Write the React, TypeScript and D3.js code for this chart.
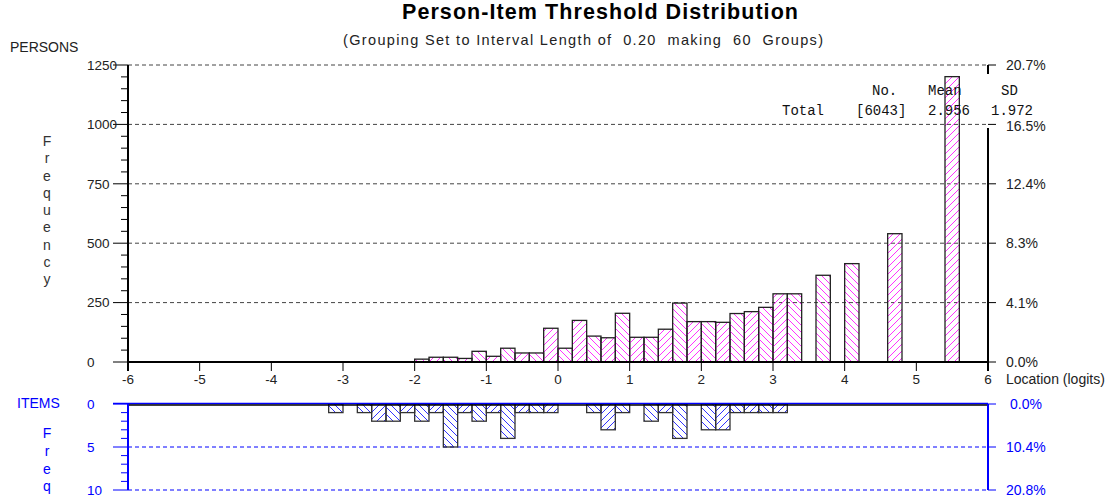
import React from "react";
import * as d3 from "d3";

// lower edge (logits) of each non-empty 0.2 interval, and its count
const personBins = [-2.0, -1.8, -1.6, -1.4, -1.2, -1.0, -0.8, -0.6, -0.4, -0.2, 0, 0.2, 0.4, 0.6, 0.8, 1.0, 1.2, 1.4, 1.6, 1.8, 2.0, 2.2, 2.4, 2.6, 2.8, 3.0, 3.2, 3.6, 4.0, 4.6, 5.4];
const personCounts = [12, 20, 20, 15, 45, 24, 58, 38, 38, 142, 58, 175, 109, 102, 205, 104, 104, 138, 248, 170, 170, 167, 204, 212, 230, 287, 287, 365, 414, 540, 1201];

const itemBins = [-3.2, -2.8, -2.6, -2.4, -2.2, -2.0, -1.8, -1.6, -1.4, -1.2, -1.0, -0.8, -0.6, -0.4, -0.2, 0.4, 0.6, 0.8, 1.2, 1.4, 1.6, 2.0, 2.2, 2.4, 2.6, 2.8, 3.0];
const itemCounts = [1, 1, 2, 2, 1, 2, 1, 5, 1, 2, 1, 4, 1, 1, 1, 1, 3, 1, 2, 1, 4, 3, 3, 1, 1, 1, 1];

const personTicks = [0, 250, 500, 750, 1000, 1250];
const itemTicks = [0, 5, 10];
const xTicks = [-6, -5, -4, -3, -2, -1, 0, 1, 2, 3, 4, 5, 6];
const totalPersons = 6043;
const totalItems = 48;

const statsHeader = ["No.", "Mean", "SD"];
const statsRow = ["Total", "[6043]", "2.956", "1.972"];
const statsHeaderX = [872, 928, 1001];
const statsRowX = [782, 856, 928, 991];

const BIN = 0.2;
const SANS = "'Liberation Sans', Arial, sans-serif";
const MONO = "'Liberation Mono', 'Courier New', monospace";
const BLUE = "#0000ff";

export default function App() {
  const x = d3.scaleLinear().domain([-6, 6]).range([128, 988]);
  const yP = d3.scaleLinear().domain([0, 1250]).range([362, 65]);
  const yI = d3.scaleLinear().domain([0, 10]).range([404, 490]);
  const binIndex = (b: number) => Math.round((b + 6) / BIN);

  const left = x(-6);
  const right = x(6);
  const minorP = d3.range(0, 1251, 50).filter((v) => v % 250 !== 0);
  const minorI = d3.range(0, 11, 1).filter((v) => v % 5 !== 0);

  const persons = personBins.map((b, i) => ({ b, v: personCounts[i] }));
  const items = itemBins.map((b, i) => ({ b, v: itemCounts[i] }));

  const freqUpper = "Frequency".split("");
  const freqLower = "Freq".split("");

  return (
    <svg
      width={1120}
      height={497}
      style={{ position: "absolute", left: 0, top: 0, background: "#fff" }}
      fontFamily={SANS}
    >
      <defs>
        <pattern id="pinkF" patternUnits="userSpaceOnUse" width="7" height="7">
          <path d="M-1,1 L1,-1 M0,7 L7,0 M6,8 L8,6" stroke="#ff33ff" strokeWidth="1" />
        </pattern>
        <pattern id="pinkB" patternUnits="userSpaceOnUse" width="7" height="7">
          <path d="M-1,6 L1,8 M0,0 L7,7 M6,-1 L8,1" stroke="#ff33ff" strokeWidth="1" />
        </pattern>
        <pattern id="blueF" patternUnits="userSpaceOnUse" width="7" height="7">
          <path d="M-1,1 L1,-1 M0,7 L7,0 M6,8 L8,6" stroke="#3333ff" strokeWidth="1" />
        </pattern>
        <pattern id="blueB" patternUnits="userSpaceOnUse" width="7" height="7">
          <path d="M-1,6 L1,8 M0,0 L7,7 M6,-1 L8,1" stroke="#3333ff" strokeWidth="1" />
        </pattern>
      </defs>

      {/* titles */}
      <text x={600} y={19} textAnchor="middle" fontSize={21.5} fontWeight="bold" textLength={396} lengthAdjust="spacing">
        Person-Item Threshold Distribution
      </text>
      <text x={583} y={45} textAnchor="middle" fontSize={14.5} textLength={480} lengthAdjust="spacing" style={{ whiteSpace: "pre" }} fill="#222">
        {"(Grouping Set to Interval Length of  0.20  making  60  Groups)"}
      </text>

      {/* ---------- persons ---------- */}
      <text x={10} y={52} fontSize={14} fill="#222">PERSONS</text>
      {freqUpper.map((c, i) => (
        <text key={i} x={47} y={141 + i * 17.3} dy="0.35em" textAnchor="middle" fontSize={14} fill="#333">{c}</text>
      ))}

      {personTicks.slice(1).map((t) => (
        <line key={t} x1={left} x2={right} y1={yP(t)} y2={yP(t)} stroke="#444" strokeDasharray="4,3" />
      ))}

      {persons.map((d) => (
        <rect
          key={d.b}
          x={x(d.b)}
          width={x(d.b + BIN) - x(d.b)}
          y={yP(d.v)}
          height={yP(0) - yP(d.v)}
          fill={binIndex(d.b) % 2 ? "url(#pinkF)" : "url(#pinkB)"}
          stroke="#222"
          strokeWidth={1.3}
        />
      ))}

      {/* left axis */}
      <line x1={left} x2={left} y1={yP(1250)} y2={yP(0) + 9} stroke="#000" strokeWidth={2} />
      {personTicks.map((t) => (
        <g key={t}>
          <line x1={left - 15} x2={left} y1={yP(t)} y2={yP(t)} stroke="#000" />
          <text x={87} y={yP(t)} dy="0.36em" fontSize={13.5} fill="#222">{t}</text>
        </g>
      ))}
      {minorP.map((t) => (
        <line key={t} x1={left - 7} x2={left} y1={yP(t)} y2={yP(t)} stroke="#000" />
      ))}

      {/* right axis (broken where the summary sits) */}
      <line x1={right} x2={right} y1={yP(1250)} y2={yP(1212)} stroke="#000" strokeWidth={2} />
      <line x1={right} x2={right} y1={yP(985)} y2={yP(0) + 9} stroke="#000" strokeWidth={2} />
      {personTicks.map((t) => (
        <g key={t}>
          <line x1={right} x2={right + 8} y1={yP(t)} y2={yP(t)} stroke="#000" />
          <text x={1006} y={yP(t) + (t === 1000 ? 1.5 : 0)} dy="0.36em" fontSize={14} fill="#222">
            {((t / totalPersons) * 100).toFixed(1) + "%"}
          </text>
        </g>
      ))}

      {/* bottom axis */}
      <line x1={left} x2={right} y1={yP(0)} y2={yP(0)} stroke="#000" strokeWidth={2} />
      {xTicks.map((t) => (
        <g key={t}>
          <line x1={x(t)} x2={x(t)} y1={yP(0)} y2={yP(0) + 9} stroke="#000" />
          <text x={x(t)} y={384} textAnchor="middle" fontSize={13.5} fill="#222">{t}</text>
        </g>
      ))}
      <text x={1006} y={384} fontSize={14} fill="#222">Location (logits)</text>

      {/* summary */}
      {statsHeader.map((s, i) => (
        <text key={s} x={statsHeaderX[i]} y={95} fontFamily={MONO} fontSize={14} fill="#111">{s}</text>
      ))}
      {statsRow.map((s, i) => (
        <text key={s} x={statsRowX[i]} y={115} fontFamily={MONO} fontSize={14} fill="#111">{s}</text>
      ))}

      {/* ---------- items ---------- */}
      <text x={17} y={408} fontSize={14} fill={BLUE}>ITEMS</text>
      {freqLower.map((c, i) => (
        <text key={i} x={47} y={433 + i * 17.8} dy="0.35em" textAnchor="middle" fontSize={14} fill={BLUE}>{c}</text>
      ))}

      {itemTicks.slice(1).map((t) => (
        <line key={t} x1={left} x2={right} y1={yI(t)} y2={yI(t)} stroke={BLUE} strokeDasharray="4,3" />
      ))}

      {items.map((d) => (
        <rect
          key={d.b}
          x={x(d.b)}
          width={x(d.b + BIN) - x(d.b)}
          y={yI(0)}
          height={yI(d.v) - yI(0)}
          fill={binIndex(d.b) % 2 ? "url(#blueF)" : "url(#blueB)"}
          stroke="#333"
          strokeWidth={1.3}
        />
      ))}

      <line x1={left - 15} x2={right} y1={yI(0) - 0.5} y2={yI(0) - 0.5} stroke={BLUE} strokeWidth={1.5} />
      <line x1={left} x2={right} y1={yI(0) + 1} y2={yI(0) + 1} stroke="#000" strokeWidth={1.5} />

      <line x1={left} x2={left} y1={yI(0)} y2={yI(10)} stroke={BLUE} strokeWidth={2} />
      {itemTicks.map((t) => (
        <g key={t}>
          <line x1={left - 15} x2={left} y1={yI(t)} y2={yI(t)} stroke={BLUE} />
          <text x={87} y={yI(t)} dy="0.36em" fontSize={13.5} fill={BLUE}>{t}</text>
        </g>
      ))}
      {minorI.map((t) => (
        <line key={t} x1={left - 7} x2={left} y1={yI(t)} y2={yI(t)} stroke={BLUE} />
      ))}

      <line x1={right} x2={right} y1={yI(0)} y2={yI(10)} stroke={BLUE} strokeWidth={2} />
      {itemTicks.map((t) => (
        <g key={t}>
          <line x1={right} x2={right + 8} y1={yI(t)} y2={yI(t)} stroke={BLUE} />
          <text x={t === 0 ? 1010 : 1006} y={yI(t)} dy="0.36em" fontSize={14} fill={BLUE}>
            {((t / totalItems) * 100).toFixed(1) + "%"}
          </text>
        </g>
      ))}
    </svg>
  );
}
